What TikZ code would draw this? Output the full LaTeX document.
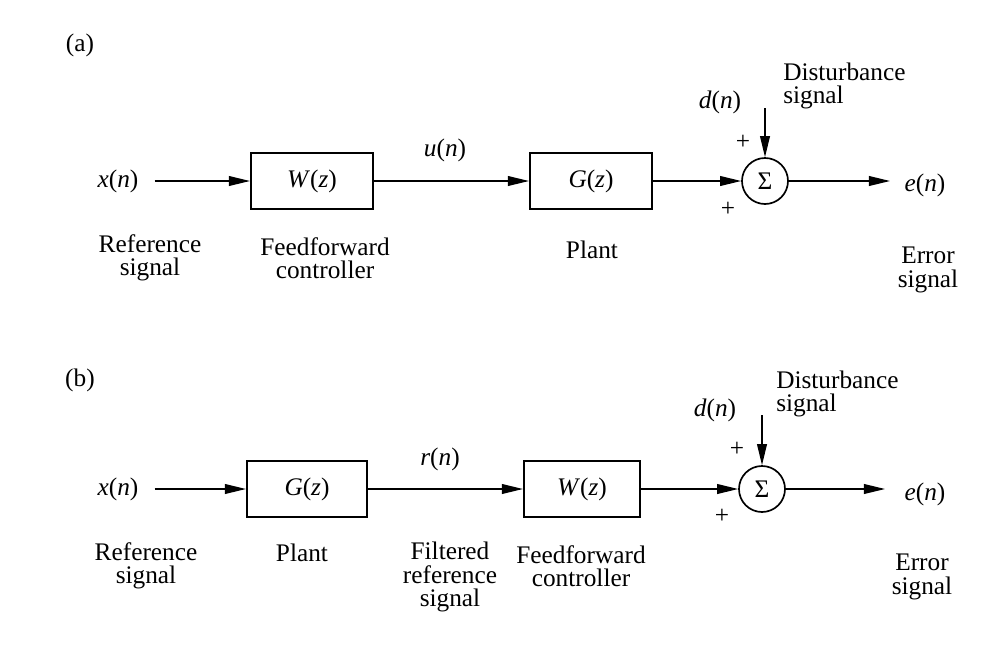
\documentclass[tikz,border=0pt]{standalone}
\usepackage{fontspec}
\setmainfont{Liberation Serif}
\usetikzlibrary{arrows.meta}
\newcommand{\sig}[1]{\textit{#1}(\textit{n})}
\tikzset{
	block/.style={draw, line width=1.5pt, minimum width=3.05cm, minimum height=1.4cm, inner sep=0pt},
	sumnode/.style={draw, circle, line width=1.2pt, minimum size=1.15cm, inner sep=0pt},
	lbl/.style={align=center, inner sep=0pt},
	sigline/.style={->, line width=0.9pt}
}
\begin{document}
\begin{tikzpicture}[x=0.025cm, y=-0.025cm, >={Triangle[length=15pt,width=7pt]}, font=\fontsize{18}{16.5}\selectfont]
	\useasboundingbox (0,0) rectangle (996,652);
	% (a)
	\node[lbl] (taga) at (80,45) {(a)};
	\node[lbl] (xa) at (118,181) {\sig{x}};
	\node[block] (wa) at (312,181) {\textit{W}(\textit{z})};
	\node[block] (ga) at (591,181) {\textit{G}(\textit{z})};
	\node[sumnode] (suma) at (765,181) {Σ};
	\node[lbl] (ua) at (445,150) {\sig{u}};
	\node[lbl] (da) at (720,102) {\sig{d}};
	\node[lbl, align=left, anchor=west] (disa) at (783,86) {Disturbance\\signal};
	\node[lbl] (pa1) at (743,142) {+};
	\node[lbl] (pa2) at (728,209) {+};
	\node[lbl] (ea) at (925,185) {\sig{e}};
	\coordinate (dsa) at (765,108);
	\coordinate (eoa) at (890,181);
	\node[lbl] (refa) at (150,258) {Reference\\signal};
	\node[lbl] (ffa) at (325,258) {Feedforward\\controller};
	\node[lbl] (plta) at (592,250) {Plant};
	\node[lbl] (erra) at (928,270) {Error\\signal};
	\draw[sigline] (xa.east) ++(16,0) -- (wa.west);
	\draw[sigline] (wa.east) -- (ga.west);
	\draw[sigline] (ga.east) -- (suma.west);
	\draw[sigline] (dsa) -- (suma.north);
	\draw[sigline] (suma.east) -- (eoa);
	% (b)
	\node[lbl] (tagb) at (80,380) {(b)};
	\node[lbl] (xb) at (118,489) {\sig{x}};
	\node[block, minimum width=3.0cm] (gb) at (307,489) {\textit{G}(\textit{z})};
	\node[block, minimum width=2.9cm] (wb) at (582,489) {\textit{W}(\textit{z})};
	\node[sumnode] (sumb) at (762,489) {Σ};
	\node[lbl] (rb) at (440,459) {\sig{r}};
	\node[lbl] (db) at (715,410) {\sig{d}};
	\node[lbl, align=left, anchor=west] (disb) at (776,394) {Disturbance\\signal};
	\node[lbl] (pb1) at (737,449) {+};
	\node[lbl] (pb2) at (722,516) {+};
	\node[lbl] (eb) at (925,494) {\sig{e}};
	\coordinate (dsb) at (762,415);
	\coordinate (eob) at (885,489);
	\node[lbl] (refb) at (146,566) {Reference\\signal};
	\node[lbl] (pltb) at (302,553) {Plant};
	\node[lbl] (frb) at (450,577) {Filtered\\reference\\signal};
	\node[lbl] (ffb) at (581,566) {Feedforward\\controller};
	\node[lbl] (errb) at (922,577) {Error\\signal};
	\draw[sigline] (xb.east) ++(16,0) -- (gb.west);
	\draw[sigline] (gb.east) -- (wb.west);
	\draw[sigline] (wb.east) -- (sumb.west);
	\draw[sigline] (dsb) -- (sumb.north);
	\draw[sigline] (sumb.east) -- (eob);
\end{tikzpicture}
\end{document}
